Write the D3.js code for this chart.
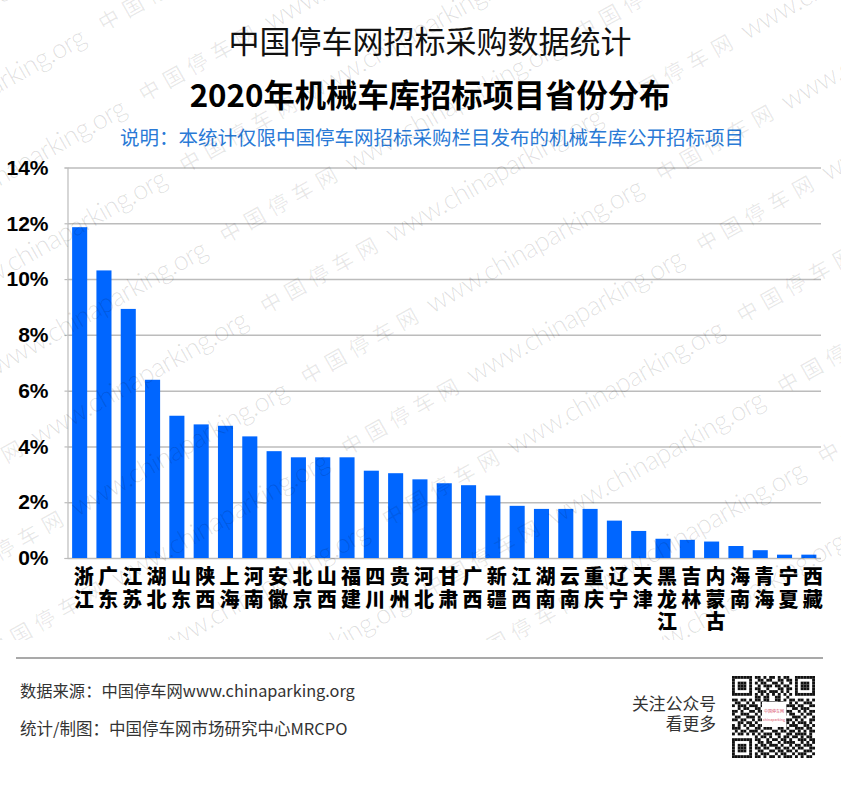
<!DOCTYPE html>
<html lang="zh">
<head>
    <meta charset="UTF-8">
    <title>2020年机械车库招标项目省份分布</title>
    <style>
        html, body { margin: 0; padding: 0; background: #fff; }
        svg { display: block; }
        text { font-family: "Noto Sans CJK SC", "Noto Sans", sans-serif; }
        .tick-y text { font-family: "Liberation Sans", sans-serif; font-weight: 700; font-size: 21px; fill: #000; }
        .tick-x text { font-weight: 900; font-size: 20px; fill: #000; }
        .foot { font-size: 16.3px; fill: #333; }
        .colon { font-family: "Noto Sans CJK TC"; }
        .wm text { fill: #000; }
    </style>
</head>
<body>
    <div id="chart"></div>

    <script src="https://d3js.org/d3.v7.min.js"></script>
    <script>
        const provinces = ["浙江", "广东", "江苏", "湖北", "山东", "陕西", "上海", "河南", "安徽", "北京", "山西", "福建", "四川", "贵州", "河北", "甘肃", "广西", "新疆", "江西", "湖南", "云南", "重庆", "辽宁", "天津", "黑龙江", "吉林", "内蒙古", "海南", "青海", "宁夏", "西藏"];
        const shares = [11.86, 10.31, 8.93, 6.39, 5.10, 4.79, 4.74, 4.36, 3.83, 3.61, 3.61, 3.61, 3.13, 3.04, 2.82, 2.68, 2.61, 2.24, 1.87, 1.76, 1.76, 1.76, 1.34, 0.97, 0.69, 0.65, 0.59, 0.43, 0.28, 0.12, 0.12];
        const yTicks = [0, 2, 4, 6, 8, 10, 12, 14];

        // qr code modules, drawn as small squares
        const qrRows = [
            "11111110110101101011001111111",
            "10000010011011001101101000001",
            "10111010101100110100101011101",
            "10111010010111011011001011101",
            "10111010110010001101101011101",
            "10000010011101110101001000001",
            "11111110101010101010101111111",
            "00000000110110011001000000000",
            "11011010110110011010110110101",
            "01100101001011101100101001110",
            "10111011101100110101110110011",
            "00101100110011010010011011100",
            "11010011011010111001100101011",
            "10011100101101001110110010110",
            "01100111010010110100011101001",
            "11011001011101001011101010011",
            "00110110100110110101010111010",
            "10101011011001011010111001101",
            "11100100110111001101001110110",
            "01011011101000110110110101011",
            "10110101010111011001101111010",
            "00000000101101001011011010110",
            "11111110110010110110100111011",
            "10000010011011001011110010101",
            "10111010101101110100101101110",
            "10111010110110011011010110011",
            "10111010011001101101101001110",
            "10000010101110010110010111001",
            "11111110110101101011101010110"
        ];

        const width = 860, height = 799;
        const margin = { top: 167.5, right: 39, bottom: 241, left: 67.5 };
        const plotW = width - margin.left - margin.right;
        const plotH = height - margin.top - margin.bottom;

        const svg = d3.select("#chart").append("svg").attr("width", width).attr("height", height);

        // full width colon sits centred in the reference, TC glyph does that
        function withColon(sel, before, after) {
            sel.append("tspan").text(before);
            sel.append("tspan").attr("class", "colon").text("：");
            sel.append("tspan").text(after);
        }

        // titles
        svg.append("text").attr("x", 430).attr("y", 53).attr("text-anchor", "middle")
            .style("font-size", "31px").attr("fill", "#111").text("中国停车网招标采购数据统计");
        svg.append("text").attr("x", 430).attr("y", 107).attr("text-anchor", "middle")
            .style("font-size", "31.3px").style("font-weight", 700).attr("fill", "#000").text("2020年机械车库招标项目省份分布");
        svg.append("text").attr("x", 432).attr("y", 145).attr("text-anchor", "middle")
            .style("font-size", "19.5px").attr("fill", "#2a7ad6")
            .call(withColon, "说明", "本统计仅限中国停车网招标采购栏目发布的机械车库公开招标项目");

        const x = d3.scaleBand().domain(provinces).range([0, plotW]).paddingInner(0.38).paddingOuter(0.19);
        const y = d3.scaleLinear().domain([0, 14]).range([plotH, 0]);

        const g = svg.append("g").attr("transform", `translate(${margin.left},${margin.top})`);

        // grid lines + y labels
        const gridAxis = g.append("g").attr("class", "tick-y")
            .call(d3.axisLeft(y).tickValues(yTicks).tickSize(-plotW).tickPadding(19).tickFormat(d => d + "%"));
        gridAxis.select(".domain").remove();
        gridAxis.selectAll("line").attr("stroke", "#bcbcbc").attr("stroke-width", 1.5);

        const leftAxis = g.append("g")
            .call(d3.axisLeft(y).tickValues(yTicks).tickSize(3).tickFormat(""));
        leftAxis.select(".domain").attr("stroke", "#bcbcbc").attr("stroke-width", 1.2);
        leftAxis.selectAll("line").attr("stroke", "#bcbcbc").attr("stroke-width", 1.2);

        // bars
        g.selectAll("rect.bar").data(provinces).enter().append("rect")
            .attr("class", "bar")
            .attr("x", d => x(d))
            .attr("y", (d, i) => y(shares[i]))
            .attr("width", x.bandwidth())
            .attr("height", (d, i) => plotH - y(shares[i]))
            .attr("fill", "#0066ff");

        // category labels, one character per line
        const xAxis = g.append("g").attr("class", "tick-x")
            .attr("transform", `translate(4,${plotH})`)
            .call(d3.axisBottom(x).tickSize(0).tickFormat(""));
        xAxis.select(".domain").remove();
        xAxis.selectAll(".tick text").each(function(d) {
            const t = d3.select(this).attr("y", 0).attr("dy", null);
            Array.from(d).forEach((ch, i) => {
                t.append("tspan").attr("x", 0).attr("y", 26 + i * 22.7).text(ch);
            });
        });

        // footer
        svg.append("line").attr("x1", 16).attr("x2", 823).attr("y1", 658).attr("y2", 658)
            .attr("stroke", "#a9a9a9").attr("stroke-width", 2);
        svg.append("text").attr("class", "foot").attr("x", 20).attr("y", 697)
            .call(withColon, "数据来源", "中国停车网www.chinaparking.org");
        svg.append("text").attr("class", "foot").attr("x", 20).attr("y", 735).style("font-size", "16.5px")
            .call(withColon, "统计/制图", "中国停车网市场研究中心MRCPO");
        svg.append("text").attr("class", "foot").attr("x", 716).attr("y", 710).attr("text-anchor", "end")
            .style("font-size", "16.8px").text("关注公众号");
        svg.append("text").attr("class", "foot").attr("x", 716).attr("y", 730).attr("text-anchor", "end")
            .style("font-size", "16.8px").text("看更多");

        // qr code
        const qrX = d3.scaleBand().domain(d3.range(qrRows.length)).range([732, 815]);
        const qrY = d3.scaleBand().domain(d3.range(qrRows.length)).range([676, 758]);
        const qr = svg.append("g");
        qrRows.forEach((row, r) => {
            Array.from(row).forEach((c, k) => {
                if (c === "1") {
                    qr.append("rect").attr("x", qrX(k)).attr("y", qrY(r))
                        .attr("width", qrX.bandwidth()).attr("height", qrY.bandwidth()).attr("fill", "#111");
                }
            });
        });
        qr.append("rect").attr("x", 762).attr("y", 702).attr("width", 24).attr("height", 25).attr("fill", "#fff");
        qr.append("text").attr("x", 774).attr("y", 713).attr("text-anchor", "middle")
            .style("font-size", "4px").attr("fill", "#d8506a").text("中国停车网");
        qr.append("text").attr("x", 774).attr("y", 721).attr("text-anchor", "middle")
            .style("font-size", "3.6px").attr("fill", "#d8506a").text("chinaparking");

        // watermark lattice, only over the upper picture
        svg.append("clipPath").attr("id", "wm-clip").append("rect")
            .attr("x", 0).attr("y", 0).attr("width", 841).attr("height", 640);
        const wm = svg.append("g").attr("class", "wm").attr("clip-path", "url(#wm-clip)").attr("pointer-events", "none");
        const stepA = [40.5, 70.7], stepB = [355, -203], base = [230, 232];
        d3.range(-6, 8).forEach(i => {
            d3.range(-3, 4).forEach(j => {
                const px = base[0] + i * stepA[0] + j * stepB[0];
                const py = base[1] + i * stepA[1] + j * stepB[1];
                if (px < -420 || px > 860 || py < -20 || py > 800) return;
                const unit = wm.append("g").attr("transform", `translate(${px},${py}) rotate(-29.5)`);
                if (px > -140 && py < 660) {
                    unit.append("text").attr("x", -10).attr("y", 8)
                        .style("font-size", "21px").style("letter-spacing", "6.5px").attr("fill-opacity", 0.09)
                        .text("中国停车网");
                }
                unit.append("text").attr("x", 135).attr("y", 8)
                    .attr("textLength", 245).attr("lengthAdjust", "spacing").attr("fill-opacity", 0.13)
                    .style("font-family", "Lato").style("font-size", "27px").style("font-weight", 300)
                    .text("www.chinaparking.org");
            });
        });
    </script>
</body>
</html>
